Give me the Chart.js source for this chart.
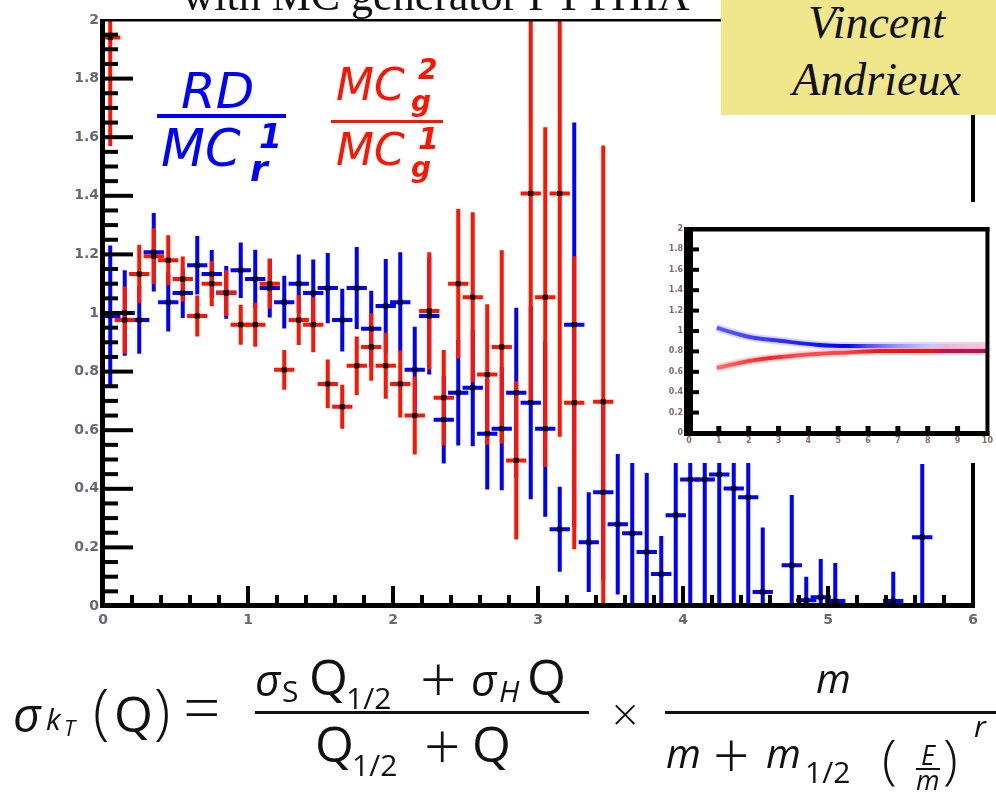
<!DOCTYPE html>
<html>
<head>
<meta charset="utf-8">
<script src="https://cdn.jsdelivr.net/npm/chart.js@4.4.1/dist/chart.umd.min.js"></script>
<style>
  html, body { margin: 0; padding: 0; background: #fff; }
  #wrap { position: relative; width: 996px; height: 792px; overflow: hidden; background: #fff; }
  #main { position: absolute; left: 0; top: 0; }
  #insetBox { position: absolute; left: 666px; top: 202px; width: 330px; height: 261px; background: #fff; }
  #title { position: absolute; left: 0; width: 872px; top: -26px; text-align: center;
           font: 44px 'Liberation Serif'; line-height: 1; white-space: nowrap; color: #111; }
  #name { position: absolute; left: 721px; top: 0; width: 275px; height: 115px; background: #f0e68c; }
  #name div { position: absolute; left: 36px; width: 239px; text-align: center;
              font: italic 46px 'Liberation Serif'; line-height: 1; color: #111; }
  .lg { position: absolute; font-family: 'DejaVu Sans'; font-style: italic; line-height: 1; white-space: nowrap; }
  .b { color: #0000ff; }
  .r { color: #ff1400; }
  .bar { position: absolute; background: #111; }
  .fx { position: absolute; font-family: 'Open Sans'; font-size: 50px; line-height: 1; white-space: nowrap; color: #111; }
  .it { font-style: italic; }
  .lt { font-weight: 300; }
</style>
</head>
<body>
<div id="wrap">
  <canvas id="main" width="996" height="792"></canvas>

  <div id="title">with MC generator PYTHIA</div>

  <div id="insetBox"><canvas id="inset" width="330" height="261"></canvas></div>

  <div id="name">
    <div style="top:0px">Vincent</div>
    <div style="top:57px">Andrieux</div>
  </div>

  <!-- legend: blue ratio -->
  <div class="lg b" style="left:181px; top:66px; font-size:50px">RD</div>
  <div class="bar" style="left:157px; top:114px; width:129px; height:4px; background:#0000ff"></div>
  <div class="lg b" style="left:161px; top:123px; font-size:51px">MC</div>
  <div class="lg b" style="left:259px; top:120px; font-size:33px; font-weight:bold">1</div>
  <div class="lg b" style="left:250px; top:151px; font-size:36px; font-weight:bold">r</div>

  <!-- legend: red ratio -->
  <div class="lg r" style="left:336px; top:63px; font-size:44px">MC</div>
  <div class="lg r" style="left:418px; top:56px; font-size:28px; font-weight:bold">2</div>
  <div class="lg r" style="left:411px; top:88px; font-size:28px; font-weight:bold">g</div>
  <div class="bar" style="left:331px; top:120px; width:112px; height:3px; background:#ff1400"></div>
  <div class="lg r" style="left:336px; top:128px; font-size:44px">MC</div>
  <div class="lg r" style="left:418px; top:124px; font-size:30px; font-weight:bold">1</div>
  <div class="lg r" style="left:411px; top:154px; font-size:28px; font-weight:bold">g</div>

  <!-- formula, left side -->
  <div class="fx it" style="left:13px; top:690px; font-size:48px">σ</div>
  <div class="fx it" style="left:46px; top:704px; font-size:30px">k</div>
  <div class="fx it" style="left:64px; top:716px; font-size:22px">T</div>
  <div class="fx lt" style="left:93px; top:680px; font-size:60px">(</div>
  <div class="fx" style="left:114px; top:688px">Q</div>
  <div class="fx lt" style="left:154px; top:680px; font-size:60px">)</div>
  <div class="fx lt" style="left:183px; top:672px; font-size:66px">=</div>

  <!-- first fraction -->
  <div class="fx it" style="left:255px; top:657px; font-size:44px">σ</div>
  <div class="fx" style="left:282px; top:676px; font-size:30px">S</div>
  <div class="fx" style="left:309px; top:651px">Q</div>
  <div class="fx" style="left:346px; top:683px; font-size:30px">1/2</div>
  <div class="fx lt" style="left:420px; top:646px; font-size:64px">+</div>
  <div class="fx it" style="left:471px; top:657px; font-size:44px">σ</div>
  <div class="fx it" style="left:499px; top:676px; font-size:30px">H</div>
  <div class="fx" style="left:527px; top:651px">Q</div>
  <div class="bar" style="left:255px; top:711px; width:334px; height:3px"></div>
  <div class="fx" style="left:315px; top:718px">Q</div>
  <div class="fx" style="left:352px; top:750px; font-size:30px">1/2</div>
  <div class="fx lt" style="left:424px; top:713px; font-size:64px">+</div>
  <div class="fx" style="left:472px; top:718px">Q</div>

  <div class="fx lt" style="left:612px; top:690px; font-size:46px">×</div>

  <!-- second fraction -->
  <div class="fx it" style="left:816px; top:658px; font-size:40px">m</div>
  <div class="bar" style="left:665px; top:711px; width:331px; height:3px"></div>
  <div class="fx it" style="left:666px; top:733px; font-size:40px">m</div>
  <div class="fx lt" style="left:713px; top:722px; font-size:64px">+</div>
  <div class="fx it" style="left:766px; top:733px; font-size:40px">m</div>
  <div class="fx" style="left:805px; top:757px; font-size:30px">1/2</div>
  <div class="fx lt" style="left:882px; top:730px; font-size:54px">(</div>
  <div class="fx it" style="left:921px; top:741px; font-size:27px">E</div>
  <div class="bar" style="left:916px; top:768px; width:24px; height:2px"></div>
  <div class="fx it" style="left:916px; top:766px; font-size:27px">m</div>
  <div class="fx lt" style="left:943px; top:730px; font-size:54px">)</div>
  <div class="fx it" style="left:974px; top:711px; font-size:30px">r</div>
</div>

<script>
// ---------- data ----------
const BIN_HALF = 0.07;

const blueX = [0.05, 0.15, 0.25, 0.35, 0.45, 0.55, 0.65, 0.75, 0.85, 0.95,
               1.05, 1.15, 1.25, 1.35, 1.45, 1.55, 1.65, 1.75, 1.85, 1.95,
               2.05, 2.15, 2.25, 2.35, 2.45, 2.55, 2.65, 2.75, 2.85, 2.95,
               3.05, 3.15, 3.25, 3.35, 3.45, 3.55, 3.65, 3.75, 3.85, 3.95,
               4.05, 4.15, 4.25, 4.35, 4.45, 4.55, 4.75, 4.85, 4.95, 5.05,
               5.45, 5.65];
const blueY = [0.99, 1.00, 0.976, 1.207, 1.037, 1.068, 1.163, 1.133, 1.07, 1.146,
               1.116, 1.085, 1.037, 1.10, 1.068, 1.085, 0.976, 1.085, 0.946, 1.024,
               1.037, 0.806, 0.99, 0.636, 0.728, 0.745, 0.588, 0.605, 0.728, 0.694,
               0.605, 0.262, 0.96, 0.218, 0.388, 0.279, 0.248, 0.184, 0.109, 0.31,
               0.432, 0.432, 0.449, 0.401, 0.371, 0.048, 0.139, 0.02, 0.03, 0.017,
               0.017, 0.235];
const blueErr = [0.24, 0.146, 0.115, 0.134, 0.10, 0.085, 0.10, 0.082, 0.09, 0.095,
                 0.10, 0.10, 0.09, 0.10, 0.115, 0.12, 0.107, 0.14, 0.13, 0.16,
                 0.17, 0.147, 0.20, 0.15, 0.18, 0.20, 0.19, 0.21, 0.29, 0.33,
                 0.30, 0.145, 0.69, 0.17, 0.30, 0.24, 0.24, 0.27, 0.13, 0.33,
                 0.45, 0.45, 0.46, 0.42, 0.40, 0.22, 0.24, 0.08, 0.13, 0.13,
                 0.10, 0.25];

const redX = [0.05, 0.15, 0.25, 0.35, 0.45, 0.55, 0.65, 0.75, 0.85, 0.95,
              1.05, 1.15, 1.25, 1.35, 1.45, 1.55, 1.65, 1.75, 1.85, 1.95,
              2.05, 2.15, 2.25, 2.35, 2.45, 2.55, 2.65, 2.75, 2.85, 2.95,
              3.05, 3.15, 3.25, 3.45];
const redY = [1.94, 0.976, 1.133, 1.194, 1.18, 1.116, 0.99, 1.10, 1.068, 0.96,
              0.96, 1.10, 0.806, 0.976, 0.96, 0.758, 0.68, 0.82, 0.884, 0.82,
              0.758, 0.65, 1.007, 0.711, 1.10, 1.054, 0.79, 0.884, 0.497, 1.408,
              1.054, 1.408, 0.694, 0.697];
const redErr = [0.37, 0.115, 0.10, 0.095, 0.085, 0.077, 0.07, 0.077, 0.078, 0.068,
                0.075, 0.085, 0.068, 0.085, 0.094, 0.083, 0.075, 0.10, 0.115, 0.113,
                0.115, 0.133, 0.20, 0.163, 0.255, 0.29, 0.24, 0.33, 0.27, 0.72,
                0.58, 0.83, 0.50, 0.875];

// inset curves
const insetX    = [0.93, 2.02, 3.11, 4.24, 5.33, 6.42, 8.0, 10];
const insetBlue = [1.03, 0.942, 0.902, 0.866, 0.852, 0.852, 0.852, 0.852];
const insetRed  = [0.638, 0.706, 0.746, 0.774, 0.79, 0.804, 0.804, 0.804];

const BLUE = '#0000ff';
const RED = '#ff1400';

// -------------------------
// MAIN PLOT PLUGINS
// -------------------------
const errorBars = {
  id: 'errorBars',
  beforeDatasetsDraw(chart) {
    const { ctx, chartArea: a, scales: { x, y } } = chart;
    ctx.save();
    ctx.beginPath();
    ctx.rect(a.left, a.top, a.right - a.left, a.bottom - a.top);
    ctx.clip();
    ctx.lineWidth = 4;
    [[blueX, blueY, blueErr, BLUE], [redX, redY, redErr, RED]].forEach(([xs, ys, es, col]) => {
      ctx.strokeStyle = col;
      xs.forEach((xv, i) => {
        const px = x.getPixelForValue(xv);
        const py = y.getPixelForValue(ys[i]);
        ctx.beginPath();
        ctx.moveTo(px, y.getPixelForValue(ys[i] + es[i]));
        ctx.lineTo(px, y.getPixelForValue(ys[i] - es[i]));
        ctx.moveTo(x.getPixelForValue(xv - BIN_HALF), py);
        ctx.lineTo(x.getPixelForValue(xv + BIN_HALF), py);
        ctx.stroke();
      });
    });
    ctx.restore();
  }
};

const frameTicks = {
  id: 'frameTicks',
  afterDatasetsDraw(chart) {
    const { ctx, chartArea: a, scales: { x, y } } = chart;
    ctx.save();
    ctx.fillStyle = '#000';
    // frame
    ctx.fillRect(a.left - 3, a.top, 5, a.bottom - a.top + 2);
    ctx.fillRect(a.left - 3, a.bottom - 3, a.right - a.left + 5, 5);
    ctx.fillRect(a.left - 3, a.top - 1, a.right - a.left + 5, 2.5);
    ctx.fillRect(a.right - 2, a.top, 4, a.bottom - a.top);
    // y ticks, pointing in
    for (let k = 1; k < 40; k++) {
      const py = y.getPixelForValue(k * 0.05);
      const len = (k % 4 === 0) ? 28 : 13;
      ctx.fillRect(a.left + 2, py - 2, len, 4);
    }
    // x ticks, pointing up
    for (let k = 1; k < 30; k++) {
      const px = x.getPixelForValue(k * 0.2);
      const len = (k % 5 === 0) ? 17 : 8;
      ctx.fillRect(px - 2, a.bottom - 3 - len, 4, len);
    }
    ctx.restore();
  }
};

function fmt(v) {
  return String(Math.round(v * 10) / 10);
}

new Chart(document.getElementById('main'), {
  type: 'scatter',
  data: {
    datasets: [
      {
        data: blueX.map((xv, i) => ({ x: xv, y: blueY[i] })),
        pointStyle: 'rect', pointRadius: 3.6, backgroundColor: '#000', borderWidth: 0
      },
      {
        data: redX.map((xv, i) => ({ x: xv, y: redY[i] })),
        pointStyle: 'rect', pointRadius: 3.6, backgroundColor: '#000', borderWidth: 0
      }
    ]
  },
  options: {
    responsive: false,
    animation: false,
    devicePixelRatio: 1,
    layout: { padding: { left: 0, right: 23, top: 20, bottom: 0 } },
    plugins: { legend: { display: false }, tooltip: { enabled: false } },
    scales: {
      x: {
        type: 'linear', min: 0, max: 6,
        grid: { display: false, drawTicks: false },
        border: { display: false },
        ticks: { stepSize: 1, padding: 6, color: '#6a6674', font: { family: 'DejaVu Sans', size: 14, weight: 'bold' }, callback: fmt },
        afterFit: s => { s.height = 186; }
      },
      y: {
        type: 'linear', min: 0, max: 2,
        grid: { display: false, drawTicks: false },
        border: { display: false },
        ticks: { stepSize: 0.2, padding: 4, color: '#6a6674', font: { family: 'DejaVu Sans', size: 14, weight: 'bold' }, callback: fmt },
        afterFit: s => { s.width = 103; }
      }
    }
  },
  plugins: [errorBars, frameTicks]
});

// -------------------------
// INSET
// -------------------------
const insetFrame = {
  id: 'insetFrame',
  afterDatasetsDraw(chart) {
    const { ctx, chartArea: a, scales: { x, y } } = chart;
    ctx.save();
    ctx.fillStyle = '#000';
    ctx.fillRect(a.left - 5, a.top - 2, 9, a.bottom - a.top + 5);
    ctx.fillRect(a.left - 5, a.top - 2, a.right - a.left + 7, 4.5);
    ctx.fillRect(a.right - 2, a.top - 2, 4, a.bottom - a.top + 5);
    ctx.fillRect(a.left - 5, a.bottom - 2, a.right - a.left + 7, 5);
    for (let k = 1; k < 10; k++) {
      const py = y.getPixelForValue(k * 0.2);
      ctx.fillRect(a.left + 4, py - 2, 6, 4);
      const px = x.getPixelForValue(k);
      ctx.fillRect(px - 2.5, a.bottom - 7, 5, 5);
    }
    ctx.restore();
  }
};

function lineGrad(stops) {
  return (c) => {
    const a = c.chart.chartArea;
    if (!a) return stops[0][1];
    const g = c.chart.ctx.createLinearGradient(a.left, 0, a.right, 0);
    stops.forEach(([t, col]) => g.addColorStop(t, col));
    return g;
  };
}

const blueStops = [[0, '#5a5aff'], [0.09, '#5a5aff'], [0.37, '#2020ff'], [0.53, '#0000ff'],
                   [0.6, '#5050ff'], [0.7, '#9898ff'], [0.81, '#c8c8ff'], [0.86, '#f0b8d0'], [1, '#ffc8cc']];
const redStops = [[0, '#ff7070'], [0.09, '#ff7070'], [0.27, '#ff2020'], [0.37, '#ff5050'],
                  [0.53, '#ff4040'], [0.63, '#ff1010'], [0.81, '#ff1000'], [0.86, '#cc0a50'], [1, '#c80a55']];

new Chart(document.getElementById('inset'), {
  type: 'line',
  data: {
    datasets: [
      { data: insetX.map((xv, i) => ({ x: xv, y: insetBlue[i] })), borderColor: lineGrad(blueStops),
        borderWidth: 4, pointRadius: 0, cubicInterpolationMode: 'monotone', order: 1 },
      { data: insetX.map((xv, i) => ({ x: xv, y: insetRed[i] })), borderColor: lineGrad(redStops),
        borderWidth: 4, pointRadius: 0, cubicInterpolationMode: 'monotone', order: 1 },
      { data: insetX.map((xv, i) => ({ x: xv, y: insetBlue[i] })), borderColor: 'rgba(130,130,255,0.3)',
        borderWidth: 8, pointRadius: 0, cubicInterpolationMode: 'monotone', order: 5 },
      { data: insetX.map((xv, i) => ({ x: xv, y: insetRed[i] })), borderColor: 'rgba(255,130,130,0.3)',
        borderWidth: 8, pointRadius: 0, cubicInterpolationMode: 'monotone', order: 5 }
    ]
  },
  options: {
    responsive: false,
    animation: false,
    devicePixelRatio: 1,
    layout: { padding: { left: 0, right: 5, top: 27, bottom: 0 } },
    plugins: { legend: { display: false }, tooltip: { enabled: false } },
    scales: {
      x: {
        type: 'linear', min: 0, max: 10,
        grid: { display: false, drawTicks: false },
        border: { display: false },
        ticks: { stepSize: 1, padding: 3, color: '#8a6a68', font: { family: 'DejaVu Sans', size: 8, weight: 'bold' } },
        afterFit: s => { s.height = 30; }
      },
      y: {
        type: 'linear', min: 0, max: 2,
        grid: { display: false, drawTicks: false },
        border: { display: false },
        ticks: { stepSize: 0.2, padding: 6, color: '#8a6a68', font: { family: 'DejaVu Sans', size: 8, weight: 'bold' }, callback: fmt },
        afterFit: s => { s.width = 23; }
      }
    }
  },
  plugins: [insetFrame]
});
</script>
</body>
</html>
